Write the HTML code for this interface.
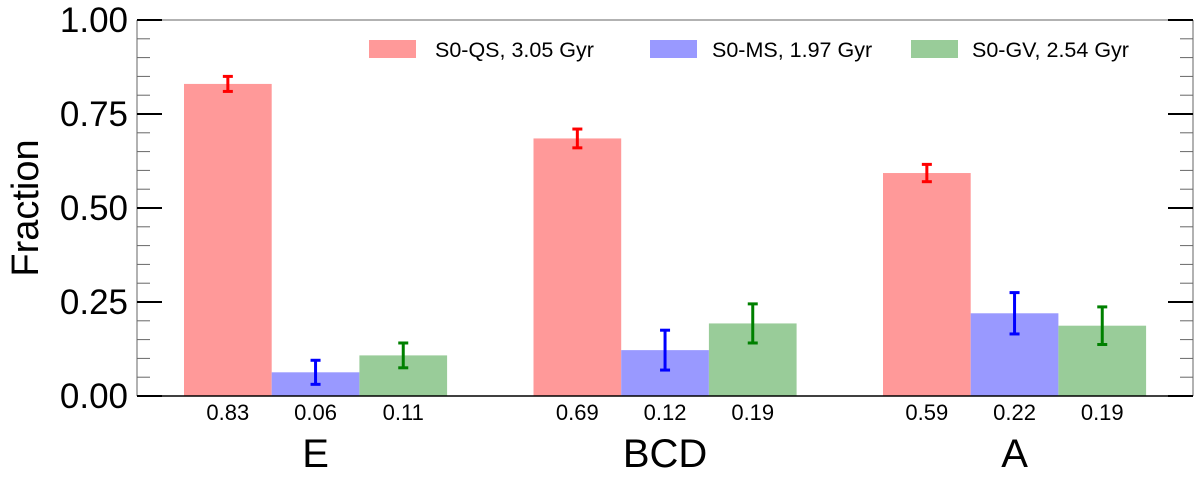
<!DOCTYPE html>
<html><head><meta charset="utf-8"><style>
body{margin:0;background:#fff;width:1200px;height:481px;overflow:hidden}
svg{font-family:"Liberation Sans",Arial,sans-serif}
</style></head><body>
<svg id="chart" width="1200" height="481"></svg>
<script>
const categories=["E","BCD","A"];
const seriesNames=["S0-QS, 3.05 Gyr","S0-MS, 1.97 Gyr","S0-GV, 2.54 Gyr"];
const qsVals=[0.83,0.685,0.593];
const msVals=[0.063,0.122,0.22];
const gvVals=[0.108,0.193,0.187];
const qsErr=[0.02,0.025,0.023];
const msErr=[0.032,0.053,0.055];
const gvErr=[0.033,0.052,0.05];
const qsLabels=["0.83","0.69","0.59"];
const msLabels=["0.06","0.12","0.22"];
const gvLabels=["0.11","0.19","0.19"];
const yTicks=[0,0.25,0.5,0.75,1.0];
const yTickLabels=["0.00","0.25","0.50","0.75","1.00"];

const NS="http://www.w3.org/2000/svg";
const svg=document.getElementById('chart');
const X0=137,X1=1193,Y0=396,Y1=20;
const y=v=>Y0-(Y0-Y1)*v;
const groupStart=i=>184+i*349.5;
const barW=87.7;
function el(t,a,p){const e=document.createElementNS(NS,t);for(const k in a)e.setAttribute(k,a[k]);(p||svg).appendChild(e);return e;}

const fills=["#ff9999","#9999ff","#99cc99"];
const errCol=["#ff0000","#0000ff","#008000"];
const vals=[qsVals,msVals,gvVals],errs=[qsErr,msErr,gvErr],labs=[qsLabels,msLabels,gvLabels];

categories.forEach((c,i)=>{
  for(let s=0;s<3;s++){
    const x=groupStart(i)+s*barW,v=vals[s][i];
    const r=el('rect',{x:x,y:y(v),width:barW,height:Y0-y(v),fill:fills[s]});
    
    
    const cx=x+barW/2,e=errs[s][i];
    const g=el('g',{stroke:errCol[s],'stroke-width':3});
    
    
    el('line',{x1:cx,x2:cx,y1:y(v-e),y2:y(v+e)},g);
    el('line',{x1:cx-5,x2:cx+5,y1:y(v-e),y2:y(v-e)},g);
    el('line',{x1:cx-5,x2:cx+5,y1:y(v+e),y2:y(v+e)},g);
    const t=el('text',{x:cx,y:420,'font-size':22,'text-anchor':'middle',fill:'#000'});
    t.textContent=labs[s][i];
    
    
  }
  const t=el('text',{x:groupStart(i)+1.5*barW,y:467,'font-size':40,'text-anchor':'middle'});
  t.textContent=c;
  
  
});

const ax=el('g',{});


el('line',{x1:X0,x2:X1,y1:Y1,y2:Y1,stroke:'#666','stroke-width':1},ax);
el('line',{x1:X0,x2:X0,y1:Y1,y2:Y0,stroke:'#666','stroke-width':1},ax);
el('line',{x1:X1,x2:X1,y1:Y1,y2:Y0,stroke:'#666','stroke-width':1},ax);
el('line',{x1:X0,x2:X1,y1:Y0,y2:Y0,stroke:'#000','stroke-width':1.5},ax);
for(let k=0;k<=20;k++){
  const v=k*0.05,major=k%5===0,yy=y(v);
  const len=major?25:13;
  el('line',{x1:X0,x2:X0+len,y1:yy,y2:yy,stroke:major?'#000':'#666','stroke-width':major?2:1},ax);
  el('line',{x1:X1,x2:X1-len,y1:yy,y2:yy,stroke:major?'#000':'#666','stroke-width':major?2:1},ax);
}
yTicks.forEach((v,i)=>{
  const t=el('text',{x:128,y:y(v)+12,'font-size':35,'text-anchor':'end'});
  t.textContent=yTickLabels[i];
  
  
});
const yt=el('text',{x:0,y:0,'font-size':38,'text-anchor':'middle',transform:'translate(38,208) rotate(-90)'});
yt.textContent='Fraction';



const legX=[369,650,911];
const legT=[435,712,972];
seriesNames.forEach((n,s)=>{
  const g=el('g',{});
  
  
  el('rect',{x:legX[s],y:40,width:47,height:18,fill:fills[s]},g);
  const t=el('text',{x:legT[s],y:57,'font-size':21.5},g);
  t.textContent=n;
});
</script>
</body></html>
